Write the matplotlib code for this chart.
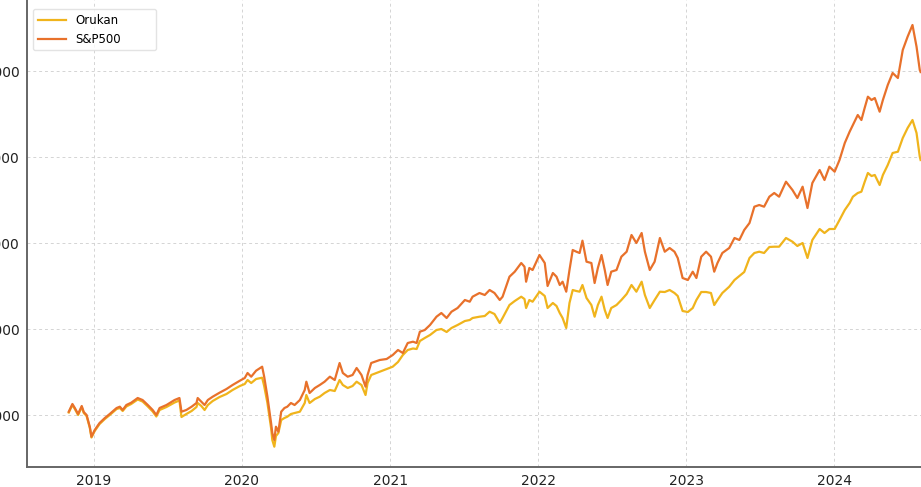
import matplotlib
matplotlib.use("Agg")
import matplotlib.pyplot as plt
import matplotlib.dates as mdates
import pandas as pd

dates = [
"2018-10-31","2018-11-09","2018-11-15","2018-11-23","2018-12-02","2018-12-07","2018-12-14","2018-12-22","2018-12-26",
"2019-01-03","2019-01-15","2019-01-28","2019-02-09","2019-02-26","2019-03-06","2019-03-13","2019-03-22","2019-04-03",
"2019-04-19","2019-05-01","2019-05-14","2019-05-26","2019-06-04","2019-06-12","2019-06-29","2019-07-19","2019-07-31",
"2019-08-05","2019-08-17","2019-08-30","2019-09-11","2019-09-14","2019-09-23","2019-10-01","2019-10-09","2019-10-21",
"2019-11-07","2019-11-24","2019-12-09","2019-12-27","2020-01-08","2020-01-15","2020-01-24","2020-02-05","2020-02-20",
"2020-02-25","2020-03-04","2020-03-13","2020-03-16","2020-03-21","2020-03-25","2020-03-31","2020-04-07","2020-04-15",
"2020-04-22","2020-05-01","2020-05-10","2020-05-23","2020-06-04","2020-06-08","2020-06-16","2020-06-29","2020-07-11",
"2020-07-23","2020-08-05","2020-08-17","2020-08-29","2020-09-06","2020-09-18","2020-09-30","2020-10-10","2020-10-22",
"2020-11-01","2020-11-06","2020-11-15","2020-12-06","2020-12-23","2021-01-07","2021-01-20","2021-02-01","2021-02-13",
"2021-02-26","2021-03-07","2021-03-15","2021-03-27","2021-04-09","2021-04-25","2021-05-07","2021-05-20","2021-06-01",
"2021-06-16","2021-07-04","2021-07-16","2021-07-23","2021-08-09","2021-08-22","2021-09-03","2021-09-15","2021-09-28",
"2021-10-05","2021-10-22","2021-11-04","2021-11-20","2021-11-28","2021-12-02","2021-12-10","2021-12-18","2022-01-04",
"2022-01-17","2022-01-24","2022-02-06","2022-02-15","2022-02-23","2022-03-02","2022-03-11","2022-03-19","2022-03-27",
"2022-04-05","2022-04-13","2022-04-20","2022-04-30","2022-05-12","2022-05-20","2022-05-28","2022-06-06","2022-06-14",
"2022-06-21","2022-06-30","2022-07-13","2022-07-25","2022-08-07","2022-08-19","2022-08-31","2022-09-13","2022-09-21",
"2022-10-03","2022-10-15","2022-10-28","2022-11-09","2022-11-21","2022-12-03","2022-12-11","2022-12-23","2023-01-05",
"2023-01-17","2023-01-26","2023-02-07","2023-02-19","2023-03-03","2023-03-11","2023-03-19","2023-03-31","2023-04-17",
"2023-04-30","2023-05-12","2023-05-24","2023-06-06","2023-06-18","2023-06-30","2023-07-12","2023-07-25","2023-08-06",
"2023-08-18","2023-09-04","2023-09-20","2023-10-02","2023-10-15","2023-10-27","2023-11-08","2023-11-26","2023-12-08",
"2023-12-20","2024-01-02","2024-01-14","2024-01-27","2024-02-08","2024-02-16","2024-02-28","2024-03-08","2024-03-16",
"2024-03-24","2024-04-02","2024-04-10","2024-04-22","2024-04-30","2024-05-12","2024-05-24","2024-06-06","2024-06-18",
"2024-06-30","2024-07-12","2024-07-22","2024-07-30","2024-08-01",
]

sp500 = [
20192,20640,20407,20058,20523,20174,20000,19302,18738,
19128,19535,19826,20058,20407,20483,20291,20581,20715,
20988,20872,20581,20291,20000,20407,20581,20872,20988,
20192,20291,20483,20698,20988,20773,20581,20872,21064,
21297,21512,21744,21994,22151,22442,22227,22576,22808,
22227,21064,19535,18953,18547,19320,19029,20192,20407,
20483,20698,20581,20872,21454,21936,21279,21570,21744,
21936,22227,22035,23023,22442,22227,22326,22733,22326,
21645,22326,23023,23198,23256,23488,23779,23605,24186,
24262,24186,24843,24942,25233,25715,25930,25640,26006,
26221,26686,26587,26878,27093,26977,27268,27093,26686,
26878,28041,28332,28837,28622,27750,28547,28430,29302,
28837,27500,28256,28041,27558,27750,27169,28430,29593,
29494,29419,30134,28913,28837,27674,28547,29302,28430,
27558,28332,28430,29204,29494,30465,30000,30581,29494,
28430,28913,30291,29494,29709,29494,29128,27965,27849,
28332,27965,29204,29494,29204,28332,28837,29419,29709,
30291,30175,30756,31163,32111,32209,32111,32692,32907,
32692,33564,33081,32616,33273,32035,33488,34244,33663,
34436,34145,34826,35814,36471,36861,37442,37151,37849,
38506,38314,38430,37634,38314,39186,39884,39593,41221,
41995,42675,41413,40058,39942,
]

orukan = [
20145,20581,20349,20000,20465,20116,19942,19244,18692,
19070,19477,19767,20000,20349,20407,20233,20494,20640,
20901,20785,20494,20203,19913,20291,20465,20727,20843,
19884,20058,20233,20465,20698,20523,20291,20581,20814,
21047,21221,21454,21686,21802,22035,21860,22093,22169,
21686,20698,19244,18547,18157,18779,18953,19709,19826,
19901,20058,20116,20192,20698,21163,20698,20930,21064,
21279,21454,21395,22035,21744,21570,21686,21936,21744,
21163,21860,22326,22517,22674,22808,23081,23488,23779,
23866,23837,24302,24477,24651,24942,25000,24826,25058,
25233,25465,25523,25640,25715,25756,26006,25872,25349,
25640,26395,26628,26878,26744,26221,26686,26587,27169,
26919,26221,26512,26337,25930,25640,25058,26512,27268,
27209,27169,27558,26802,26395,25715,26395,26878,26105,
25640,26221,26395,26686,27035,27558,27169,27750,26977,
26221,26686,27169,27151,27268,27093,26919,26047,25988,
26221,26686,27151,27151,27093,26395,26686,27093,27459,
27849,28081,28314,29128,29419,29494,29419,29768,29785,
29785,30291,30076,29826,30000,29128,30175,30814,30581,
30814,30814,31337,31919,32326,32692,32907,32983,33547,
34070,33895,33954,33372,33954,34535,35233,35308,36105,
36686,37151,36395,35017,34826,
]

series_names = ["Orukan", "S&P500"]
y_ticks = [20000, 25000, 30000, 35000, 40000]

df = pd.DataFrame({"date": pd.to_datetime(dates), "Orukan": orukan, "S&P500": sp500})

plt.rcParams['font.family'] = ['DejaVu Sans']
fig = plt.figure(figsize=(9.21, 4.87), dpi=100)
ax = fig.add_axes([27/921, 20/487, 894/921, 467/487])

ax.plot(df["date"], df["Orukan"], color="#F0B41C", lw=1.6, label=series_names[0])
ax.plot(df["date"], df["S&P500"], color="#E8712B", lw=1.6, label=series_names[1])

ax.set_xlim(pd.Timestamp("2018-07-20"), pd.Timestamp("2024-08-02"))
ax.set_ylim(16977, 44128)
ax.set_yticks(y_ticks)
ax.xaxis.set_major_locator(mdates.YearLocator())
ax.xaxis.set_major_formatter(mdates.DateFormatter("%Y"))

ax.grid(True, linestyle=(0, (3, 3)), color="#d4d4d4", linewidth=0.7)
ax.set_axisbelow(True)
for s in ["top", "right"]:
    ax.spines[s].set_visible(False)
for s in ["left", "bottom"]:
    ax.spines[s].set_color("#666666")
    ax.spines[s].set_linewidth(1.4)
ax.tick_params(axis="both", length=0, pad=5, labelsize=10, labelcolor="#222222")

leg = ax.legend(loc="upper left", fontsize=8.5, frameon=True, borderaxespad=0.0,
                mode="expand", bbox_to_anchor=(0.0067, 0.5, 0.1376, 0.4807),
                handlelength=2.4)
leg.get_frame().set_edgecolor("#dddddd")

fig.savefig("out.png", dpi=100)
